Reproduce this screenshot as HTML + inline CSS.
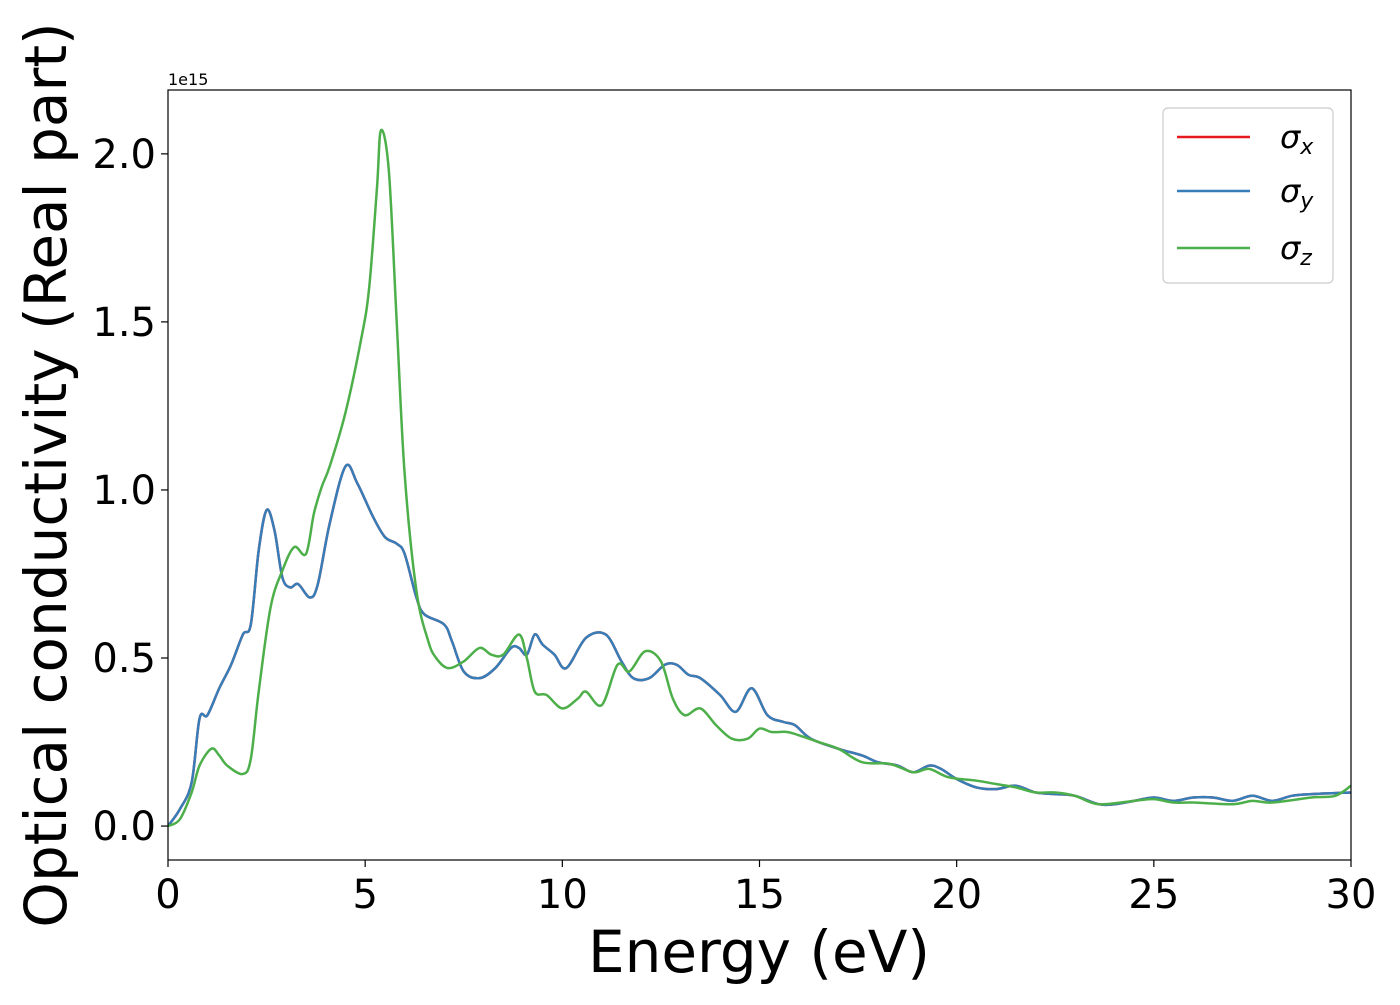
<!DOCTYPE html>
<html><head><meta charset="utf-8"><style>
body{margin:0;background:#fff}
svg text{font-family:"DejaVu Sans","Liberation Sans",sans-serif}
</style></head><body>
<svg id="chart" width="1400" height="1000" xmlns="http://www.w3.org/2000/svg">
<rect width="1400" height="1000" fill="#fff"/>
<g id="plot"></g>
<g id="axes"></g>
<text x="759" y="972" font-size="58" text-anchor="middle">Energy (eV)</text>
<text transform="translate(66,475) rotate(-90)" font-size="58" text-anchor="middle">Optical conductivity (Real part)</text>
<text x="168" y="85" font-size="16">1e15</text>
<g>
<rect x="1163" y="108" width="170" height="175" rx="5" fill="#fff" stroke="#ccc" stroke-width="1.2"/>
<line x1="1177" y1="137" x2="1250" y2="137" stroke="#e41a1c" stroke-width="2.5"/>
<text x="1280" y="148" font-size="32" font-style="italic">σ<tspan font-size="22" dy="6">x</tspan></text>
<line x1="1177" y1="191" x2="1250" y2="191" stroke="#377eb8" stroke-width="2.5"/>
<text x="1280" y="202" font-size="32" font-style="italic">σ<tspan font-size="22" dy="6">y</tspan></text>
<line x1="1177" y1="248" x2="1250" y2="248" stroke="#4daf4a" stroke-width="2.5"/>
<text x="1280" y="259" font-size="32" font-style="italic">σ<tspan font-size="22" dy="6">z</tspan></text>
</g>
</svg>
<script>
const xyE=[0,0.3,0.6,0.8,1.0,1.3,1.6,1.9,2.1,2.3,2.5,2.7,2.9,3.1,3.3,3.6,3.8,4.1,4.5,4.8,5.2,5.5,5.8,6.0,6.3,6.5,7.0,7.2,7.5,7.9,8.3,8.7,8.9,9.1,9.3,9.5,9.8,10.1,10.6,11.1,11.5,11.8,12.2,12.6,12.9,13.2,13.5,14.0,14.4,14.8,15.2,15.6,15.9,16.3,17.0,17.6,18.0,18.5,18.9,19.3,19.6,20.0,20.5,21.0,21.5,22.0,22.5,23.0,23.6,24.0,24.5,25.0,25.5,26.0,26.5,27.0,27.5,28.0,28.5,29.0,30];
const sigmaXY=[0,0.05,0.13,0.32,0.33,0.41,0.48,0.57,0.6,0.82,0.94,0.88,0.74,0.71,0.72,0.68,0.72,0.9,1.07,1.02,0.92,0.86,0.84,0.81,0.68,0.63,0.6,0.55,0.46,0.44,0.47,0.53,0.53,0.51,0.57,0.54,0.51,0.47,0.56,0.57,0.49,0.44,0.44,0.48,0.48,0.45,0.44,0.39,0.34,0.41,0.33,0.31,0.30,0.26,0.23,0.21,0.19,0.18,0.16,0.18,0.17,0.14,0.115,0.11,0.12,0.1,0.095,0.09,0.065,0.065,0.075,0.085,0.075,0.085,0.085,0.075,0.09,0.075,0.09,0.095,0.1];
const zE=[0,0.3,0.6,0.8,1.1,1.3,1.5,1.9,2.1,2.3,2.6,2.9,3.2,3.5,3.7,3.9,4.1,4.5,4.9,5.1,5.3,5.4,5.6,5.8,6.0,6.3,6.6,6.8,7.1,7.5,7.9,8.2,8.5,8.9,9.1,9.3,9.6,10.0,10.4,10.6,11.0,11.4,11.7,12.1,12.5,12.8,13.1,13.5,13.9,14.3,14.7,15.0,15.3,15.7,16.0,16.5,17.0,17.6,18.3,18.9,19.3,19.8,20.5,21.0,21.5,22.0,22.5,23.0,23.6,24.5,25.0,25.5,26.0,27.0,27.5,28.0,29.0,29.6,30];
const sigmaZ=[0,0.02,0.1,0.18,0.23,0.21,0.18,0.155,0.2,0.4,0.65,0.76,0.83,0.81,0.93,1.01,1.07,1.23,1.45,1.6,1.9,2.07,1.95,1.5,1.05,0.7,0.55,0.5,0.47,0.49,0.53,0.51,0.51,0.57,0.5,0.4,0.39,0.35,0.38,0.4,0.36,0.48,0.46,0.52,0.49,0.38,0.33,0.35,0.3,0.26,0.26,0.29,0.28,0.28,0.27,0.25,0.23,0.19,0.185,0.16,0.17,0.145,0.135,0.125,0.115,0.1,0.1,0.09,0.065,0.075,0.08,0.07,0.07,0.065,0.075,0.07,0.085,0.09,0.12];
const xTicks=[0,5,10,15,20,25,30];
const yTicks=[0,0.5,1.0,1.5,2.0];
const yTickLabels=["0.0","0.5","1.0","1.5","2.0"];

const L=168,R=1351,T=90,B=860;
const xMin=0,xMax=30,yMin=-0.101,yMax=2.19;
const sx=v=>L+(v-xMin)/(xMax-xMin)*(R-L);
const sy=v=>B-(v-yMin)/(yMax-yMin)*(B-T);
const NS="http://www.w3.org/2000/svg";
function mk(tag,attrs,parent){const e=document.createElementNS(NS,tag);for(const k in attrs)e.setAttribute(k,attrs[k]);parent.appendChild(e);return e;}
function smooth(xs,ys){
  const p=xs.map((x,i)=>[sx(x),sy(ys[i])]);
  let d=`M${p[0][0]},${p[0][1]}`;
  for(let i=0;i<p.length-1;i++){
    const p0=p[Math.max(0,i-1)],p1=p[i],p2=p[i+1],p3=p[Math.min(p.length-1,i+2)];
    const c1=[p1[0]+(p2[0]-p0[0])/6,p1[1]+(p2[1]-p0[1])/6];
    const c2=[p2[0]-(p3[0]-p1[0])/6,p2[1]-(p3[1]-p1[1])/6];
    d+=`C${c1[0]},${c1[1]} ${c2[0]},${c2[1]} ${p2[0]},${p2[1]}`;
  }
  return d;
}
const plot=document.getElementById('plot');
const clip=mk('clipPath',{id:'clip'},plot);mk('rect',{x:L,y:T,width:R-L,height:B-T},clip);
const g=mk('g',{'clip-path':'url(#clip)'},plot);
const lx=mk('path',{d:smooth(xyE,sigmaXY),fill:'none',stroke:'#e41a1c','stroke-width':2.5},g);


const ly=mk('path',{d:smooth(xyE,sigmaXY),fill:'none',stroke:'#377eb8','stroke-width':2.5},g);


const lz=mk('path',{d:smooth(zE,sigmaZ),fill:'none',stroke:'#4daf4a','stroke-width':2.5},g);


const ax=document.getElementById('axes');
const fr=mk('rect',{x:L,y:T,width:R-L,height:B-T,fill:'none',stroke:'#000','stroke-width':1.2},ax);


xTicks.forEach(t=>{
  mk('line',{x1:sx(t),x2:sx(t),y1:B,y2:B+7,stroke:'#000','stroke-width':1.2},ax);
  const tx=mk('text',{x:sx(t),y:B+48,'font-size':40,'text-anchor':'middle'},ax);tx.textContent=t;
  
  
});
yTicks.forEach((t,i)=>{
  mk('line',{x1:L-7,x2:L,y1:sy(t),y2:sy(t),stroke:'#000','stroke-width':1.2},ax);
  const tx=mk('text',{x:L-12,y:sy(t)+14,'font-size':40,'text-anchor':'end'},ax);tx.textContent=yTickLabels[i];
  
  
});
</script>
</body></html>
